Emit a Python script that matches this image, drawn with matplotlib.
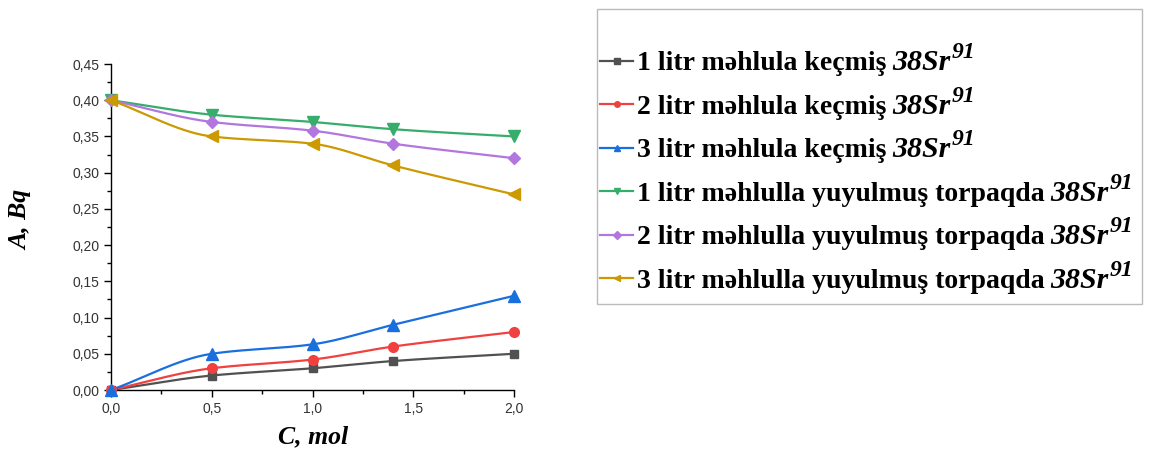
import numpy as np
import matplotlib.pyplot as plt
from matplotlib.patches import Rectangle
from matplotlib.ticker import MultipleLocator, FuncFormatter

# data
conc = [0.0, 0.5, 1.0, 1.4, 2.0]
passed_1l = [0.0, 0.02, 0.03, 0.04, 0.05]
passed_2l = [0.0, 0.03, 0.042, 0.06, 0.08]
passed_3l = [0.0, 0.05, 0.063, 0.09, 0.13]
washed_1l = [0.40, 0.38, 0.37, 0.36, 0.35]
washed_2l = [0.40, 0.37, 0.358, 0.34, 0.32]
washed_3l = [0.40, 0.35, 0.34, 0.31, 0.27]

labels = [
    "1 litr məhlula keçmiş",
    "2 litr məhlula keçmiş",
    "3 litr məhlula keçmiş",
    "1 litr məhlulla yuyulmuş torpaqda",
    "2 litr məhlulla yuyulmuş torpaqda",
    "3 litr məhlulla yuyulmuş torpaqda",
]
iso_base = "38Sr"
iso_mass = "91"
series = [passed_1l, passed_2l, passed_3l, washed_1l, washed_2l, washed_3l]
colors = ['#515151', '#F14040', '#1A6FDF', '#37AD6B', '#B177DE', '#CC9900']
markers = ['s', 'o', '^', 'v', 'D', '<']
msizes = [6, 7, 8, 8, 6, 8]


def pchip(x, y, n=200):
    # monotone cubic (Fritsch-Carlson) so the curve stays smooth between points
    x = np.asarray(x, float)
    y = np.asarray(y, float)
    h = np.diff(x)
    d = np.diff(y) / h
    m = np.zeros_like(y)
    for i in range(1, len(x) - 1):
        if d[i - 1] * d[i] > 0:
            w1 = 2 * h[i] + h[i - 1]
            w2 = h[i] + 2 * h[i - 1]
            m[i] = (w1 + w2) / (w1 / d[i - 1] + w2 / d[i])
    m[0] = d[0]
    m[-1] = d[-1]
    xs = np.linspace(x[0], x[-1], n)
    idx = np.clip(np.searchsorted(x, xs) - 1, 0, len(x) - 2)
    t = (xs - x[idx]) / h[idx]
    h00 = 2 * t ** 3 - 3 * t ** 2 + 1
    h10 = t ** 3 - 2 * t ** 2 + t
    h01 = -2 * t ** 3 + 3 * t ** 2
    h11 = t ** 3 - t ** 2
    ys = h00 * y[idx] + h10 * h[idx] * m[idx] + h01 * y[idx + 1] + h11 * h[idx] * m[idx + 1]
    return xs, ys


W, H = 1154, 454
fig = plt.figure(figsize=(W / 100, H / 100), dpi=100)
ax = fig.add_axes([111 / W, 64 / H, 403 / W, 326 / H])

handles = []
for vals, c, m, ms, lab in zip(series, colors, markers, msizes, labels):
    xs, ys = pchip(conc, vals)
    ax.plot(xs, ys, color=c, lw=1.6, clip_on=False)
    ax.plot(conc, vals, ls='none', marker=m, ms=ms, color=c, clip_on=False, zorder=3)
    h, = ax.plot([], [], color=c, lw=1.6, marker=m, ms=4, label=lab)
    handles.append(h)

ax.set_xlim(0, 2.0)
ax.set_ylim(0, 0.45)
ax.xaxis.set_major_locator(MultipleLocator(0.5))
ax.xaxis.set_minor_locator(MultipleLocator(0.25))
ax.yaxis.set_major_locator(MultipleLocator(0.05))
ax.yaxis.set_minor_locator(MultipleLocator(0.025))
ax.xaxis.set_major_formatter(FuncFormatter(lambda v, p: f"{v:.1f}".replace('.', ',')))
ax.yaxis.set_major_formatter(FuncFormatter(lambda v, p: f"{v:.2f}".replace('.', ',')))
ax.spines['top'].set_visible(False)
ax.spines['right'].set_visible(False)
for s in ['left', 'bottom']:
    ax.spines[s].set_linewidth(1.0)
ax.tick_params(which='major', direction='out', length=5, width=1, labelsize=10,
               labelcolor='#333333', labelfontfamily='Liberation Sans')
ax.tick_params(which='minor', direction='out', length=3, width=1)

serif_bi = dict(family='Liberation Serif', style='italic', weight='bold', fontsize=18.5)
fig.text(313 / W, 1 - 437 / H, "C, mol", ha='center', va='center', **serif_bi)
fig.text(21 / W, 1 - 220 / H, "A, Bq", rotation=90, ha='center', va='center', **serif_bi)

fig.patches.append(Rectangle((597 / W, 1 - 304 / H), 545 / W, 295 / H,
                             transform=fig.transFigure, fill=False,
                             edgecolor='#bbbbbb', lw=1))
leg = fig.legend(handles=handles, loc='upper left', bbox_to_anchor=(600 / W, 1 - 51 / H),
                 frameon=False, prop={'family': ['Liberation Serif', 'DejaVu Serif'],
                                      'weight': 'bold', 'size': 20},
                 handlelength=1.2, handletextpad=0.12, labelspacing=0.65, borderpad=0,
                 borderaxespad=0)

# isotope symbol after each legend label: italic 38Sr with raised 91
fig.canvas.draw()
rend = fig.canvas.get_renderer()
for txt in leg.get_texts():
    bb = txt.get_window_extent(rend)
    bx, by = txt.get_transform().transform(txt.get_position())
    t1 = fig.text((bb.x1 + 6) / W, by / H, iso_base, family='Liberation Serif',
                  style='italic', weight='bold', fontsize=21.5, ha='left', va='baseline')
    b1 = t1.get_window_extent(rend)
    fig.text((b1.x1 + 1) / W, (by + 12) / H, iso_mass, family='Liberation Serif',
             style='italic', weight='bold', fontsize=17, ha='left', va='baseline')

fig.savefig("out.png", dpi=100)
